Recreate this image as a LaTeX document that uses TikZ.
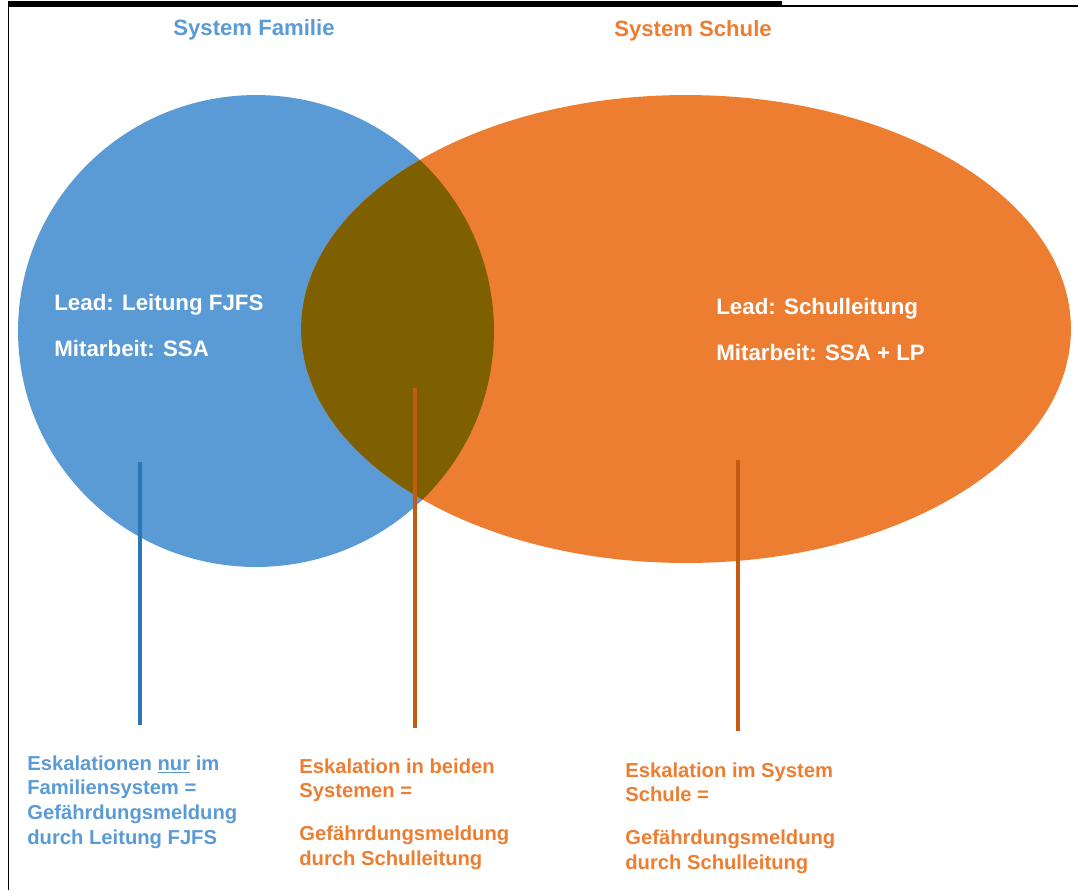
\documentclass[tikz,border=0pt]{standalone}
\usepackage{fontspec}
\setmainfont{Liberation Sans}
\usetikzlibrary{positioning}
\definecolor{famblue}{HTML}{5B9BD5}
\definecolor{schorange}{HTML}{ED7D31}
\definecolor{bothdark}{HTML}{7F6000}
\definecolor{famline}{HTML}{2E75B6}
\definecolor{schline}{HTML}{C55A11}
\begin{document}
\begin{tikzpicture}[x=0.02cm,y=-0.02cm,
  every node/.style={inner sep=0pt},
  titel/.style={font=\bfseries\fontsize{12.6}{15}\selectfont},
  lead/.style={anchor=north west,align=left,text=white,font=\bfseries\fontsize{12.7}{26}\selectfont},
  esk/.style={anchor=north west,align=left,font=\bfseries\fontsize{11.5}{14.2}\selectfont},
  stem/.style={line width=2.2pt}]
  \useasboundingbox (0,0) rectangle (1078,890);
  % frame
  \coordinate (ftl) at (8.5,6);
  \coordinate (ftr) at (1078,6);
  \coordinate (fbl) at (8.5,890);
  \coordinate (fbar) at (782,3);
  \draw[line width=1pt] (ftr)--(ftl)--(fbl);
  \draw[line width=2.4pt] (8,3)--(fbar);
  % the two systems
  \fill[famblue] (256,331) ellipse [x radius=4.76cm, y radius=4.72cm];
  \fill[schorange] (686,329) ellipse [x radius=7.7cm, y radius=4.68cm];
  \begin{scope}
    \clip (256,331) ellipse [x radius=4.76cm, y radius=4.72cm];
    \fill[bothdark] (686,329) ellipse [x radius=7.7cm, y radius=4.68cm];
  \end{scope}
  \node[titel,text=famblue] (famtitel) at (254,30) {System Familie};
  \node[titel,text=schorange] (schtitel) at (693,31) {System Schule};
  \node[lead] (famlead) at (54,294) {Lead: Leitung FJFS\\Mitarbeit: SSA};
  \node[lead] (schlead) at (716,298) {Lead: Schulleitung\\Mitarbeit: SSA + LP};
  % stems
  \coordinate (famtop) at (140,462);
  \coordinate (fambot) at (140,725);
  \coordinate (bothtop) at (415,388);
  \coordinate (bothbot) at (415,728);
  \coordinate (schtop) at (738,460);
  \coordinate (schbot) at (738,731);
  \draw[stem,famline] (famtop)--(fambot);
  \draw[stem,schline] (bothtop)--(bothbot);
  \draw[stem,schline] (schtop)--(schbot);
  % escalations
  \node[esk,text=famblue] (famesk) at (27,755) {Eskalationen \underline{nur} im\\Familiensystem =\\Gef\"ahrdungsmeldung\\durch Leitung FJFS};
  \node[esk,text=schorange] (bothesk) at (299,758) {Eskalation in beiden\\Systemen =\\[10pt]Gef\"ahrdungsmeldung\\durch Schulleitung};
  \node[esk,text=schorange] (schesk) at (625,762) {Eskalation im System\\Schule =\\[10pt]Gef\"ahrdungsmeldung\\durch Schulleitung};
\end{tikzpicture}
\end{document}
